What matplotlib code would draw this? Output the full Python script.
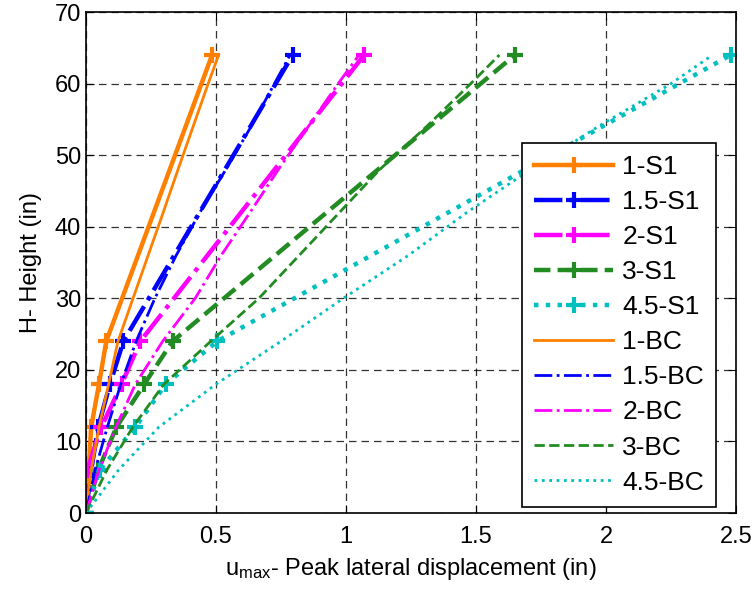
import matplotlib
matplotlib.use('Agg')
import matplotlib.pyplot as plt
from matplotlib.ticker import FormatStrFormatter

plt.rcParams['font.family'] = ['Liberation Sans', 'DejaVu Sans']
plt.rcParams['mathtext.fontset'] = 'custom'
plt.rcParams['mathtext.rm'] = 'Liberation Sans'
plt.rcParams['mathtext.it'] = 'Liberation Sans'

# heights (in)
h_s1 = [0, 6, 12, 18, 24, 64]
h_bc = [0, 6, 12, 18, 24, 30, 36, 42, 48, 54, 60, 64]

# peak lateral displacement (in), S1 series
u_1_s1 = [0, 0.01, 0.02, 0.05, 0.078, 0.485]
u_15_s1 = [0, 0.02, 0.047, 0.092, 0.144, 0.795]
u_2_s1 = [0, 0.005, 0.059, 0.137, 0.209, 1.07]
u_3_s1 = [0, 0.047, 0.117, 0.224, 0.333, 1.65]
u_45_s1 = [0, 0.053, 0.19, 0.307, 0.505, 2.48]

# BC series
u_1_bc = [0, 0.02, 0.05, 0.087, 0.123, 0.181, 0.239, 0.297, 0.354, 0.412, 0.47, 0.51]
u_15_bc = [0, 0.035, 0.082, 0.134, 0.193, 0.265, 0.347, 0.438, 0.538, 0.635, 0.725, 0.785]
u_2_bc = [0, 0.05, 0.115, 0.19, 0.295, 0.42, 0.52, 0.631, 0.74, 0.855, 0.97, 1.05]
u_3_bc = [0, 0.08, 0.18, 0.30, 0.48, 0.665, 0.82, 0.975, 1.13, 1.31, 1.48, 1.59]
u_45_bc = [0, 0.125, 0.28, 0.50, 0.75, 0.99, 1.24, 1.465, 1.71, 1.97, 2.25, 2.41]

names = ['1', '1.5', '2', '3', '4.5']
colors = ['#FF8000', '#0000FF', '#FF00FF', '#228B22', '#00BFBF']
styles = ['-', '-.', '-.', '--', ':']
s1_data = [u_1_s1, u_15_s1, u_2_s1, u_3_s1, u_45_s1]
bc_data = [u_1_bc, u_15_bc, u_2_bc, u_3_bc, u_45_bc]

fig = plt.figure(figsize=(7.53, 5.92), dpi=100)
ax = fig.add_axes([0.1142, 0.1334, 0.8632, 0.8463])

for name, c, ls, u in zip(names, colors, styles, s1_data):
    ax.plot(u, h_s1, color=c, linestyle=ls, linewidth=3.2, marker='+',
            markersize=12, markeredgewidth=3, label=name + '-S1')
for name, c, ls, u in zip(names, colors, styles, bc_data):
    ax.plot(u, h_bc, color=c, linestyle=ls, linewidth=2, label=name + '-BC')

ax.set_xlim(0, 2.5)
ax.set_ylim(0, 70)
ax.set_xticks([0, 0.5, 1, 1.5, 2, 2.5])
ax.set_yticks(range(0, 71, 10))
ax.xaxis.set_major_formatter(FormatStrFormatter('%g'))
ax.grid(True, color='k', linestyle=(0, (6, 4)), linewidth=0.9, alpha=0.8)
ax.tick_params(direction='in', top=True, right=True, length=6, labelsize=17)
ax.tick_params(axis='x', pad=9)
for sp in ax.spines.values():
    sp.set_linewidth(1.2)

ax.set_xlabel(r'u$_{\mathrm{max}}$- Peak lateral displacement (in)', fontsize=17, labelpad=6)
ax.set_ylabel('H- Height (in)', fontsize=17, labelpad=9)

leg = ax.legend(loc='upper left', bbox_to_anchor=(0.671, 0.7385), borderaxespad=0,
                fontsize=19, handlelength=3.0, handletextpad=0.34, labelspacing=0.42,
                fancybox=False, framealpha=1, edgecolor='k', borderpad=0.45)
leg.get_frame().set_linewidth(1.2)

fig.savefig('out.png', dpi=100)
